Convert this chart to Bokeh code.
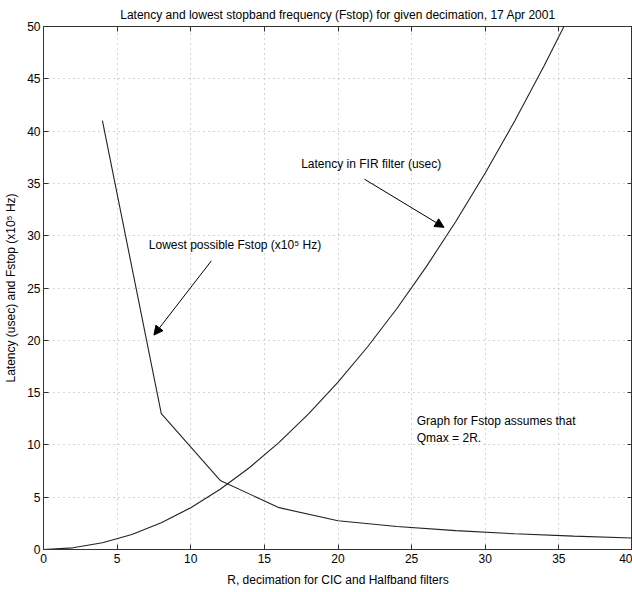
from bokeh.plotting import figure
from bokeh.models import Range1d, LinearAxis, FixedTicker, Arrow, NormalHead, Label
from bokeh.embed import file_html
from bokeh.resources import INLINE

# Latency in FIR filter (usec) vs R
lat_r = [0, 2, 4, 6, 8, 10, 12, 14, 16, 18, 20, 22, 24, 26, 28, 30, 32, 34, 36]
lat_v = [0, 0.16, 0.64, 1.44, 2.56, 4.0, 5.76, 7.84, 10.24, 12.96, 16.0,
         19.36, 23.04, 27.04, 31.36, 36.0, 40.96, 46.24, 51.84]

# Lowest possible Fstop (x10^5 Hz) vs R
fs_r = [4, 8, 12, 16, 20, 24, 28, 32, 36, 40]
fs_v = [41.0, 13.0, 6.6, 4.0, 2.75, 2.2, 1.8, 1.5, 1.28, 1.1]

x_ticks = [0, 5, 10, 15, 20, 25, 30, 35, 40]
y_ticks = [0, 5, 10, 15, 20, 25, 30, 35, 40, 45, 50]

title = "Latency and lowest stopband frequency (Fstop) for given decimation, 17 Apr 2001"
xlabel = "R, decimation for CIC and Halfband filters"
ylabel = "Latency (usec) and Fstop (x10\u2075 Hz)"

# annotations (data coordinates)
lat_note = ("Latency in FIR filter (usec)", 17.5, 36.9)
lat_arrow = (21.8, 35.4, 27.2, 30.8)
fs_note = ("Lowest possible Fstop (x10\u2075 Hz)", 7.15, 29.1)
fs_arrow = (11.4, 27.6, 7.5, 20.5)
note_lines = [("Graph for Fstop assumes that", 25.35, 12.3), ("Qmax = 2R.", 25.35, 10.7)]

FONT = "Liberation Sans"
FS = "12px"
FRAME = "#333333"

p = figure(width=632, height=592, output_backend="svg", toolbar_location=None,
           x_range=Range1d(0, 40), y_range=Range1d(0, 50),
           min_border_left=43, min_border_right=0, min_border_top=26, min_border_bottom=43,
           title=title)
p.title.text_font = FONT
p.title.text_font_size = FS
p.title.text_font_style = "normal"
p.title.align = "center"
p.title.text_color = "black"

for ax in (p.xaxis[0], p.yaxis[0]):
    ax.major_label_text_font = FONT
    ax.major_label_text_font_size = FS
    ax.major_label_text_color = "black"
    ax.axis_label_text_font = FONT
    ax.axis_label_text_font_size = FS
    ax.axis_label_text_font_style = "normal"
    ax.axis_label_text_color = "black"
    ax.major_tick_in = 5
    ax.major_tick_out = 0
    ax.minor_tick_line_color = None
    ax.axis_line_color = FRAME
    ax.major_tick_line_color = FRAME
p.xaxis[0].ticker = FixedTicker(ticks=x_ticks)
p.yaxis[0].ticker = FixedTicker(ticks=y_ticks)
p.xaxis[0].axis_label = xlabel
p.yaxis[0].axis_label = ylabel
p.xaxis[0].major_label_standoff = 4
p.yaxis[0].major_label_standoff = 3
p.xaxis[0].axis_label_standoff = 7
p.yaxis[0].axis_label_standoff = 6

for loc, ticks in (("right", y_ticks), ("above", x_ticks)):
    ax = LinearAxis(ticker=FixedTicker(ticks=ticks), major_label_text_color=None,
                    major_label_text_font_size="0px",
                    major_tick_in=5, major_tick_out=0, minor_tick_line_color=None,
                    axis_line_color=FRAME, major_tick_line_color=FRAME,
                    major_label_standoff=0)
    p.add_layout(ax, loc)

p.xgrid.ticker = FixedTicker(ticks=x_ticks)
p.ygrid.ticker = FixedTicker(ticks=y_ticks)
for g in (p.xgrid[0], p.ygrid[0]):
    g.grid_line_color = "#a8a8a8"
    g.grid_line_dash = "1 4"
    g.grid_line_width = 1
p.outline_line_color = FRAME
p.background_fill_color = "white"
p.border_fill_color = "white"

p.line(lat_r, lat_v, line_color="#222222", line_width=1.1)
p.line(fs_r, fs_v, line_color="#222222", line_width=1.1)

for (txt, x, y) in [lat_note, fs_note] + note_lines:
    p.add_layout(Label(x=x, y=y, text=txt, text_font=FONT, text_font_size=FS,
                       text_baseline="middle", text_align="left", text_color="black"))

for (x0, y0, x1, y1) in (lat_arrow, fs_arrow):
    p.add_layout(Arrow(end=NormalHead(size=9, fill_color="black", line_color="black"),
                       x_start=x0, y_start=y0, x_end=x1, y_end=y1,
                       line_color="black", line_width=1))

open("out.html", "w").write(file_html(p, INLINE))
